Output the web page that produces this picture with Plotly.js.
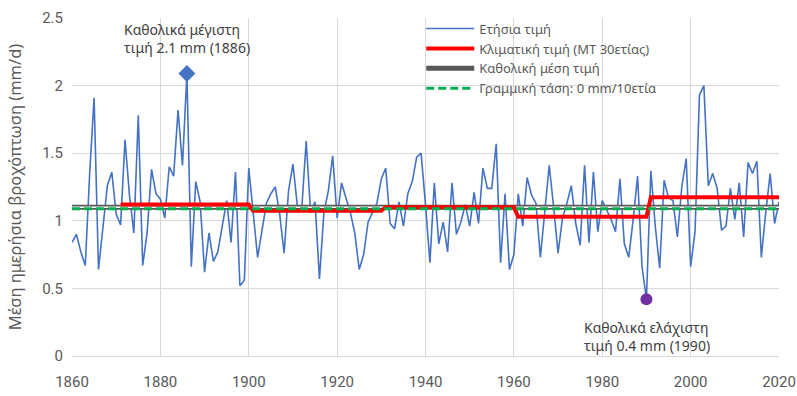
<!DOCTYPE html>
<html>
<head>
<meta charset="utf-8">
<script src="https://cdn.plot.ly/plotly-3.0.1.min.js"></script>
<style>html,body{margin:0;padding:0;background:#fff;}#chart{width:797px;height:396px;}</style>
</head>
<body>
<div id="chart"></div>
<script>
// ---- Data ----
var years = [];
for (var yr = 1860; yr <= 2020; yr++) years.push(yr);
var annualValues = [
  0.84,0.90,0.77,0.67,1.35,1.91,0.64,0.96,1.26,1.36, // 1860-1869
  1.05,0.97,1.60,1.19,0.91,1.78,0.67,0.91,1.38,1.20, // 1870-1879
  1.16,1.02,1.40,1.33,1.82,1.41,2.09,0.66,1.29,1.14, // 1880-1889
  0.62,0.91,0.70,0.77,0.96,1.15,0.84,1.36,0.52,0.56, // 1890-1899
  1.39,1.08,0.73,0.93,1.13,1.20,1.25,1.05,0.76,1.22, // 1900-1909
  1.42,1.11,1.09,1.59,1.06,1.14,0.57,1.06,1.22,1.48, // 1910-1919
  1.02,1.28,1.17,1.06,0.91,0.64,0.75,0.99,1.06,1.13, // 1920-1929
  1.31,1.39,0.98,0.94,1.14,0.96,1.20,1.29,1.47,1.50, // 1930-1939
  1.12,0.69,1.28,0.83,0.99,0.77,1.28,0.90,0.99,1.12, // 1940-1949
  0.96,1.21,0.98,1.39,1.24,1.24,1.57,0.69,1.20,0.64, // 1950-1959
  0.75,1.20,0.96,1.32,1.19,1.13,0.73,1.07,1.41,1.10, // 1960-1969
  0.76,1.02,1.13,1.26,0.98,0.82,1.41,0.84,1.36,0.92, // 1970-1979
  1.15,1.08,1.01,0.92,1.31,0.83,0.73,1.01,1.33,0.66, // 1980-1989
  0.42,1.37,0.96,0.65,1.30,1.17,1.15,0.88,1.25,1.46, // 1990-1999
  0.66,0.92,1.93,2.00,1.26,1.35,1.24,0.93,0.96,1.24, // 2000-2009
  1.01,1.28,0.88,1.43,1.35,1.44,0.73,1.06,1.35,0.98, // 2010-2019
  1.14                                               // 2020
];
var climPeriodStart = [1871, 1901, 1931, 1961, 1991];
var climPeriodEnd   = [1900, 1930, 1960, 1990, 2020];
var climValues      = [1.12, 1.075, 1.10, 1.03, 1.175];
var overallMean = 1.10;
var trendValue = 1.09;
var xTicks = [1860, 1880, 1900, 1920, 1940, 1960, 1980, 2000, 2020];
var yTicks = [0, 0.5, 1, 1.5, 2, 2.5];
var yTickText = ['0', '0.5', '1', '1.5', '2', '2.5'];
var maxLabel = "Καθολικά μέγιστη<br>τιμή 2.1 mm (1886)";
var minLabel = "Καθολικά ελάχιστη<br>τιμή 0.4 mm (1990)";

// ---- Derived traces ----
var climX = [], climY = [];
for (var p = 0; p < climPeriodStart.length; p++) {
  for (var y = climPeriodStart[p]; y <= climPeriodEnd[p]; y++) { climX.push(y); climY.push(climValues[p]); }
}
var maxI = 0, minI = 0;
for (var i = 0; i < annualValues.length; i++) {
  if (annualValues[i] > annualValues[maxI]) maxI = i;
  if (annualValues[i] < annualValues[minI]) minI = i;
}
var xEnds = [years[0], years[years.length - 1]];

var textFont = 'Noto Sans, Open Sans, sans-serif';
var tickFont = 'Liberation Sans Narrow, Roboto, sans-serif';
var grey = '#595959';

var traces = [
  {x: years, y: annualValues, type: 'scatter', mode: 'lines', name: 'Ετήσια τιμή',
   line: {color: '#4472C4', width: 1.6}, legendrank: 1},
  {x: xEnds, y: [overallMean, overallMean], type: 'scatter', mode: 'lines', name: 'Καθολική μέση τιμή',
   line: {color: '#595959', width: 5}, legendrank: 3},
  {x: xEnds, y: [overallMean, overallMean], type: 'scatter', mode: 'lines', showlegend: false,
   line: {color: '#ffffff', width: 1.5}, hoverinfo: 'skip'},
  {x: climX, y: climY, type: 'scatter', mode: 'lines', name: 'Κλιματική τιμή (ΜΤ 30ετίας)',
   line: {color: '#FF0000', width: 4}, legendrank: 2},
  {x: xEnds, y: [trendValue, trendValue], type: 'scatter', mode: 'lines', name: 'Γραμμική τάση: 0 mm/10ετία',
   line: {color: '#00B050', width: 3, dash: '8px,4px'}, legendrank: 4},
  {x: [years[maxI]], y: [annualValues[maxI]], type: 'scatter', mode: 'markers', showlegend: false,
   marker: {symbol: 'diamond', size: 13, color: '#4472C4'}},
  {x: [years[minI]], y: [annualValues[minI]], type: 'scatter', mode: 'markers', showlegend: false,
   marker: {symbol: 'circle', size: 12, color: '#7030A0'}}
];

var layout = {
  width: 797, height: 396,
  margin: {l: 72.3, r: 18.3, t: 18.3, b: 40.3, autoexpand: false},
  paper_bgcolor: '#ffffff', plot_bgcolor: '#ffffff',
  showlegend: true,
  legend: {x: 0.494, y: 1.013, xanchor: 'left', yanchor: 'top', bgcolor: 'rgba(255,255,255,0)',
           font: {family: textFont, size: 13, color: grey}, itemwidth: 48, traceorder: 'normal',
           tracegroupgap: 0},
  xaxis: {range: [1860, 2020], tickvals: xTicks, showgrid: true, gridcolor: '#D9D9D9', gridwidth: 1,
          zeroline: false, showline: true, linecolor: '#D9D9D9', ticks: '', ticklabelstandoff: 12,
          tickfont: {family: tickFont, size: 15, color: grey}, fixedrange: true, automargin: false},
  yaxis: {range: [0, 2.5], tickvals: yTicks, ticktext: yTickText, automargin: false,
          showgrid: true, gridcolor: '#D9D9D9', gridwidth: 1, zeroline: false, showline: false, ticks: '',
          ticklabelstandoff: 8,
          tickfont: {family: tickFont, size: 15, color: grey},
          title: {text: 'Μέση ημερήσια βροχόπτωση (mm/d)', font: {family: textFont, size: 16.5, color: grey}, standoff: 16}},
  annotations: [
    {x: 1871.3, y: 2.345, xref: 'x', yref: 'y', text: maxLabel, showarrow: false, xanchor: 'left', yanchor: 'middle',
     align: 'left', font: {family: textFont, size: 14, color: '#404040'}},
    {x: 1975.4, y: 0.146, xref: 'x', yref: 'y', text: minLabel, showarrow: false, xanchor: 'left', yanchor: 'middle',
     align: 'left', font: {family: textFont, size: 14, color: '#404040'}}
  ]
};

Plotly.newPlot('chart', traces, layout, {displayModeBar: false, staticPlot: true});
</script>
</body>
</html>
